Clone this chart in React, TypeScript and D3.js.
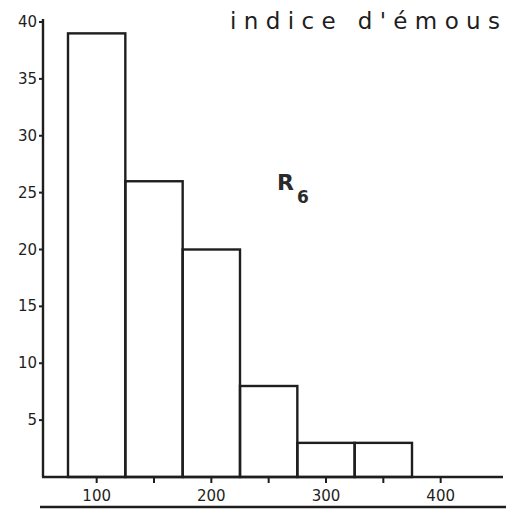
import * as d3 from 'd3'
import React from 'react'

// histogram bins (indice d'émoussé), width 50, centred on 100..350
const binStarts = [75, 125, 175, 225, 275, 325]
const binWidth = 50
const counts = [39, 26, 20, 8, 3, 3]
const yTicks = [5, 10, 15, 20, 25, 30, 35, 40]
const xLabels = [100, 200, 300, 400]
const xMinorTicks = [150, 250, 350]

const W = 506
const H = 509
const INK = '#1e1e1e'
const HAND = '"DejaVu Sans", sans-serif'

export default function App() {
  const x = d3.scaleLinear().domain([75, 375]).range([68, 412])
  const y = d3.scaleLinear().domain([0, 40]).range([477, 22])
  const base = y(0)

  return (
    <svg width={W} height={H} style={{ position: 'absolute', left: 0, top: 0, background: '#fff' }}>
      {/* title, cut off at the top of the scan */}
      <text x={230} y={29} fontFamily={HAND} fontSize={23} fill={INK} textLength={270} lengthAdjust="spacing">
        indice d'émous
      </text>

      {/* bars */}
      <g fill="none" stroke={INK} strokeWidth={2.4} strokeLinejoin="miter">
        {counts.map((c, i) => (
          <rect
            key={i}
            x={x(binStarts[i])}
            y={y(c)}
            width={x(binStarts[i] + binWidth) - x(binStarts[i])}
            height={base - y(c)}
          />
        ))}
      </g>

      {/* y axis */}
      <line x1={43} x2={43} y1={19} y2={base} stroke={INK} strokeWidth={2.4} />
      {yTicks.map(t => (
        <g key={t}>
          <line x1={39} x2={43} y1={y(t)} y2={y(t)} stroke={INK} strokeWidth={2} />
          <text x={37} y={y(t) + 5} textAnchor="end" fontFamily={HAND} fontSize={15} fill={INK}>
            {t}
          </text>
        </g>
      ))}

      {/* x axis */}
      <line x1={42} x2={503} y1={base} y2={base} stroke={INK} strokeWidth={2.4} />
      {[...xLabels, ...xMinorTicks].map(t => (
        <line key={t} x1={x(t)} x2={x(t)} y1={base} y2={base + 6} stroke={INK} strokeWidth={2} />
      ))}
      {xLabels.map(t => (
        <text key={t} x={x(t)} y={501} textAnchor="middle" fontFamily={HAND} fontSize={15} fill={INK}>
          {t}
        </text>
      ))}
      <line x1={40} x2={506} y1={507} y2={507} stroke={INK} strokeWidth={2.4} />

      {/* sample label */}
      <text x={277} y={190} fontFamily={HAND} fontWeight="bold" fontSize={22} fill="#2a2a2a">
        R
        <tspan dx={3} dy={13} fontSize={17}>6</tspan>
      </text>
    </svg>
  )
}
